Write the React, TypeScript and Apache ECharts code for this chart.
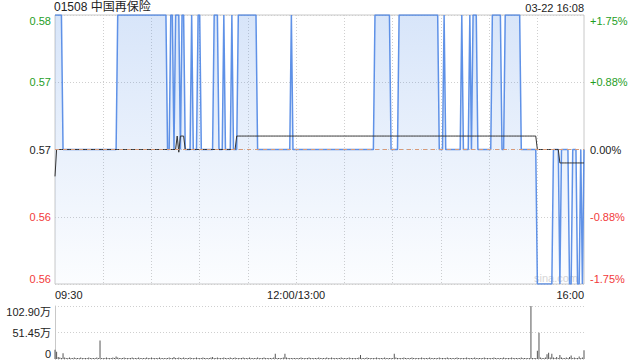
import React, { useEffect, useRef } from "react";
import * as echarts from "echarts";

// ---- data ----
const titleText = "01508 中国再保险";
const dateText = "03-22 16:08";
const prevClose = 0.57;
const xTickIdx = [0, 150, 329];
const xTickLabels = ["09:30", "12:00/13:00", "16:00"];

// price (blue area line): [value, run length in minutes]
const priceRuns: [number, number][] = [
  [0.58, 5], [0.57, 34], [0.58, 31], [0.57, 2], [0.58, 2], [0.57, 1], [0.58, 3], [0.57, 1],
  [0.58, 2], [0.57, 4], [0.58, 1], [0.57, 3], [0.58, 2], [0.57, 8], [0.58, 3], [0.57, 3],
  [0.58, 1], [0.57, 4], [0.58, 1], [0.57, 3], [0.58, 12], [0.57, 21], [0.58, 1], [0.57, 51],
  [0.58, 10], [0.57, 5], [0.58, 25], [0.57, 3], [0.58, 1], [0.57, 10], [0.58, 1], [0.57, 4],
  [0.58, 1], [0.57, 1], [0.58, 3], [0.57, 9], [0.58, 6], [0.57, 2], [0.58, 10], [0.57, 10],
  [0.56, 10], [0.57, 4], [0.56, 1], [0.57, 5], [0.56, 2], [0.57, 3], [0.56, 2], [0.57, 1],
  [0.56, 1], [0.57, 1],
];

// average price (black line)
const avgRuns: [number, number][] = [
  [0.568, 1], [0.57, 75], [0.571, 1], [0.5698, 1], [0.571, 3], [0.57, 32], [0.571, 187],
  [0.57, 14], [0.569, 16],
];

// volume in 万 shares, one per minute
const volumeWan: number[] = [
  18, 14, 4, 3, 2, 11, 3, 2, 2, 3,
  2, 2, 3, 2, 2, 2, 3, 2, 2, 2,
  2, 3, 2, 2, 2, 2, 3, 2, 36, 2,
  2, 2, 3, 2, 2, 2, 3, 2, 5, 3,
  2, 2, 2, 3, 2, 2, 2, 2, 3, 2,
  2, 2, 3, 2, 2, 2, 2, 3, 2, 2,
  3, 2, 2, 2, 2, 3, 2, 2, 2, 2,
  2, 3, 2, 2, 4, 2, 2, 3, 2, 2,
  3, 2, 2, 2, 3, 2, 2, 2, 3, 2,
  2, 2, 3, 2, 2, 2, 2, 3, 4, 2,
  2, 3, 2, 2, 2, 3, 2, 2, 2, 3,
  2, 2, 3, 2, 2, 2, 2, 3, 2, 2,
  2, 3, 2, 2, 2, 2, 3, 2, 2, 2,
  3, 2, 2, 2, 2, 2, 3, 10, 2, 2,
  2, 2, 3, 10, 3, 2, 2, 2, 2, 2,
  2, 2, 2, 3, 2, 2, 2, 2, 3, 2,
  2, 2, 2, 2, 3, 2, 2, 2, 2, 3,
  2, 2, 3, 2, 2, 2, 2, 2, 3, 2,
  2, 2, 2, 3, 2, 2, 2, 2, 2, 3,
  8, 2, 2, 2, 3, 2, 2, 2, 2, 2,
  3, 2, 2, 2, 2, 3, 2, 2, 2, 2,
  2, 10, 3, 2, 2, 2, 2, 3, 2, 2,
  2, 2, 3, 2, 2, 2, 2, 2, 3, 2,
  2, 2, 2, 3, 2, 2, 2, 2, 2, 3,
  2, 2, 2, 2, 3, 2, 2, 2, 2, 2,
  3, 2, 2, 2, 2, 2, 3, 2, 2, 2,
  2, 3, 2, 2, 2, 2, 2, 3, 2, 2,
  2, 2, 2, 3, 2, 2, 2, 2, 2, 3,
  2, 2, 2, 2, 3, 2, 2, 2, 2, 2,
  3, 2, 2, 2, 2, 2, 102.9, 2, 2, 2,
  16, 51, 3, 2, 2, 3, 9, 12, 3, 10,
  3, 2, 4, 2, 8, 3, 2, 2, 3, 2,
  4, 7, 2, 3, 2, 2, 5, 2, 3, 17,
];
const volumeMax = 1029000;

function expand(runs: [number, number][]): number[] {
  const out: number[] = [];
  for (const [v, n] of runs) for (let k = 0; k < n; k++) out.push(v);
  return out;
}

const FONT = "'Liberation Sans', Arial, 'Noto Sans CJK SC', sans-serif";
const GREEN = "#1f9e1f";
const RED = "#f23a3a";
const TEXT = "#222";

export default function App() {
  const ref = useRef<HTMLDivElement>(null);
  useEffect(() => {
    if (!ref.current) return;
    const chart = echarts.init(ref.current, undefined, { renderer: "svg" });
    const price = expand(priceRuns);
    const avg = expand(avgRuns);
    const n = price.length;
    const cats: string[] = [];
    for (let i = 0; i < n; i++) cats.push(String(i));
    const vol = volumeWan.map((v) => v * 10000);

    const cls = (v: number) => (v > prevClose + 1e-6 ? "up" : v < prevClose - 1e-6 ? "dn" : "eq");
    const rich = {
      up: { color: GREEN, fontSize: 11, fontFamily: FONT },
      dn: { color: RED, fontSize: 11, fontFamily: FONT },
      eq: { color: TEXT, fontSize: 11, fontFamily: FONT },
    };

    chart.setOption({
      animation: false,
      textStyle: { fontFamily: FONT },
      title: [
        { text: titleText, left: 54, top: 1, padding: 0, textStyle: { fontSize: 12, fontWeight: "normal", color: TEXT, fontFamily: FONT } },
        { text: dateText, right: 56, top: 2, padding: 0, textStyle: { fontSize: 11, fontWeight: "normal", color: TEXT, fontFamily: FONT } },
      ],
      graphic: [
        { type: "text", left: 534, top: 272, style: { text: "sina.com", fontSize: 11, fill: "#d6d6d6", fontFamily: FONT } },
      ],
      grid: [
        { left: 55, right: 56, top: 15, bottom: 76, show: true, borderColor: "#c8c8c8", borderWidth: 1, backgroundColor: "transparent" },
        { left: 55, right: 56, top: 306, bottom: 1 },
      ],
      xAxis: [
        {
          type: "category", gridIndex: 0, data: cats, boundaryGap: false,
          axisLine: { show: false }, axisTick: { show: false },
          axisLabel: {
            interval: (i: number) => xTickIdx.indexOf(i) >= 0,
            formatter: (_v: string, i: number) => xTickLabels[xTickIdx.indexOf(i)] ?? "",
            color: TEXT, fontSize: 11, margin: 5, fontFamily: FONT,
            alignMinLabel: "left", alignMaxLabel: "right",
          },
          splitLine: {
            show: true,
            interval: (i: number) => i > 0 && i % 30 === 0 && i < n - 1,
            lineStyle: { color: "#cfcfcf", type: [1, 2] },
          },
        },
        {
          type: "category", gridIndex: 1, data: cats, boundaryGap: false,
          axisLine: { show: false }, axisTick: { show: false }, axisLabel: { show: false }, splitLine: { show: false },
        },
      ],
      yAxis: [
        {
          type: "value", gridIndex: 0, position: "left", min: 0.56, max: 0.58, interval: 0.005,
          axisLine: { show: false }, axisTick: { show: false },
          axisLabel: {
            margin: 4,
            formatter: (v: number) => `{${cls(v)}|${v.toFixed(2)}}`,
            rich,
            verticalAlignMinLabel: "bottom", verticalAlignMaxLabel: "top",
          },
          splitLine: { show: true, lineStyle: { color: "#cfcfcf", type: [1, 2] } },
        },
        {
          type: "value", gridIndex: 0, position: "right", min: 0.56, max: 0.58, interval: 0.005,
          axisLine: { show: false }, axisTick: { show: false },
          axisLabel: {
            margin: 6,
            formatter: (v: number) => {
              const p = ((v - prevClose) / prevClose) * 100;
              const s = Math.abs(p) < 0.001 ? "0.00%" : (p > 0 ? "+" : "") + p.toFixed(2) + "%";
              return `{${cls(v)}|${s}}`;
            },
            rich,
            verticalAlignMinLabel: "bottom", verticalAlignMaxLabel: "top",
          },
          splitLine: { show: false },
        },
        {
          type: "value", gridIndex: 1, min: 0, max: volumeMax, interval: volumeMax / 2,
          axisLine: { show: true, lineStyle: { color: "#c8c8c8" } }, axisTick: { show: false },
          axisLabel: {
            margin: 4, color: TEXT, fontSize: 11, fontFamily: FONT,
            formatter: (v: number) => (v === 0 ? "0" : (v / 10000).toFixed(2) + "万"),
            verticalAlignMinLabel: "bottom", verticalAlignMaxLabel: "top",
          },
          splitLine: { show: true, lineStyle: { color: "#cfcfcf", type: [1, 2] } },
        },
      ],
      series: [
        {
          type: "line", xAxisIndex: 0, yAxisIndex: 0, data: price, showSymbol: false, z: 3,
          lineStyle: { color: "#4f86e4", width: 1.5, opacity: 0.9 },
          areaStyle: {
            color: new echarts.graphic.LinearGradient(0, 0, 0, 1, [
              { offset: 0, color: "rgba(80,140,230,0.32)" },
              { offset: 1, color: "rgba(80,140,230,0.03)" },
            ]),
          },
          markLine: {
            silent: true, symbol: "none", label: { show: false },
            lineStyle: { color: "#d89a78", type: [4, 4], width: 1 },
            data: [{ yAxis: prevClose }],
          },
        },
        {
          type: "line", xAxisIndex: 0, yAxisIndex: 0, data: avg, showSymbol: false, z: 4,
          lineStyle: { color: "#333", width: 1 },
        },
        {
          type: "bar", xAxisIndex: 1, yAxisIndex: 2, data: vol, barWidth: 1,
          itemStyle: { color: "#555" },
        },
      ],
    });
    return () => chart.dispose();
  }, []);
  return <div ref={ref} style={{ position: "absolute", left: 0, top: 0, width: 640, height: 360 }} />;
}
